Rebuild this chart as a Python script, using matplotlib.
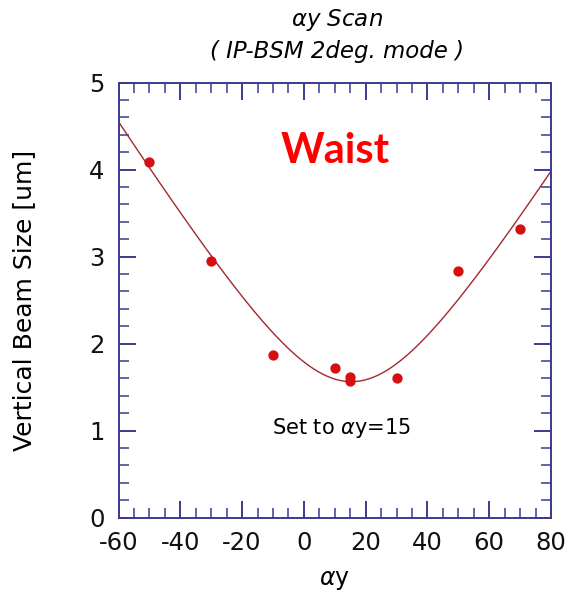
import numpy as np
import matplotlib
matplotlib.use("Agg")
import matplotlib.pyplot as plt
from matplotlib.ticker import MultipleLocator

plt.rcParams["axes.unicode_minus"] = False

# Measured vertical beam size vs. alpha-y knob setting
alpha_y = [-50, -30, -10, 10, 15, 15, 30, 50, 70]
beam_size = [4.09, 2.95, 1.87, 1.72, 1.62, 1.57, 1.60, 2.83, 3.32]

# Fit: sigma^2 is quadratic in the knob setting
coef = np.polyfit(alpha_y, np.square(beam_size), 2)
xfit = np.linspace(-60, 80, 400)
yfit = np.sqrt(np.clip(np.polyval(coef, xfit), 0, None))

axis_color = "#3b3b8f"

fig = plt.figure(figsize=(5.68, 5.93), dpi=100)
ax = fig.add_axes([118.5 / 568, 1 - 517.5 / 593, 432.5 / 568, 435 / 593])

ax.plot(xfit, yfit, color="#a3282e", lw=1.0, zorder=2)
ax.scatter(alpha_y, beam_size, s=55, color="#d61010", zorder=3, linewidths=0)

ax.set_xlim(-60, 80)
ax.set_ylim(0, 5)
ax.xaxis.set_major_locator(MultipleLocator(20))
ax.xaxis.set_minor_locator(MultipleLocator(5))
ax.yaxis.set_major_locator(MultipleLocator(1))
ax.yaxis.set_minor_locator(MultipleLocator(0.2))
ax.tick_params(which="both", direction="in", top=True, right=True,
               color=axis_color, labelsize=17.5, labelcolor="#111111")
ax.tick_params(which="major", length=12, width=1.4)
ax.tick_params(which="minor", length=7, width=1.1)
ax.tick_params(axis="x", pad=10)
ax.tick_params(axis="y", pad=10)
for sp in ax.spines.values():
    sp.set_color(axis_color)
    sp.set_linewidth(1.4)

ax.set_xlabel(r"$\alpha$y", fontsize=17, labelpad=9)
ax.set_ylabel("Vertical Beam Size [um]", fontsize=18, labelpad=38)

fig.text(0.593, 0.966, r"$\alpha$y Scan", fontsize=16.5, style="italic",
         ha="center", va="center")
fig.text(0.593, 0.913, "( IP-BSM 2deg. mode )", fontsize=16.5, style="italic",
         ha="center", va="center")

ax.text(10, 4.21, "Waist", fontsize=30, fontweight="bold", color="#ff0000",
        family="Lato", ha="center", va="center")
ax.text(12, 1.03, r"Set to $\alpha$y=15", fontsize=15, ha="center", va="center")

fig.savefig("out.png", dpi=100)
